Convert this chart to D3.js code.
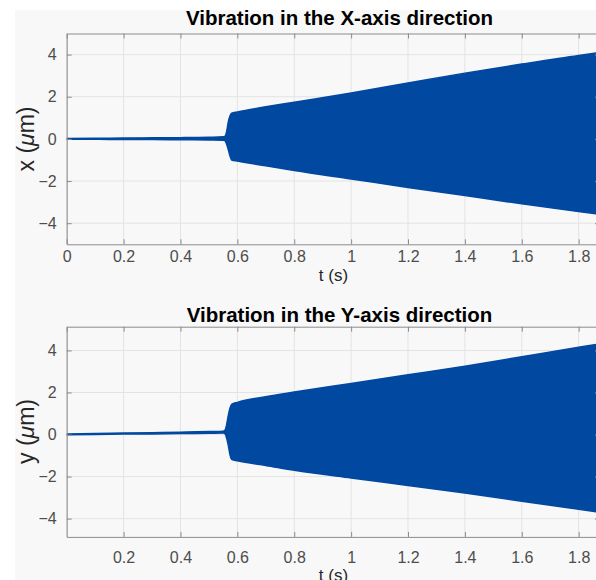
<!DOCTYPE html>
<html>
<head>
<meta charset="utf-8">
<script src="https://cdn.jsdelivr.net/npm/d3@7"></script>
<style>
  body { margin: 0; background: #fff; }
  svg { display: block; font-family: "Liberation Sans", Arial, sans-serif; }
</style>
</head>
<body>
<div id="chart"></div>
<script>
// envelope of the vibration signal
const times  = [0, 0.1, 0.2, 0.3, 0.4, 0.5, 0.55, 0.556, 0.562, 0.568, 0.574, 0.58, 0.6, 0.7, 0.8, 1.0, 1.2, 1.4, 1.6, 1.8, 1.875];
const xUpper = [0.02, 0.03, 0.04, 0.05, 0.06, 0.08, 0.1, 0.12, 0.33, 0.79, 1.08, 1.22, 1.28, 1.52, 1.74, 2.18, 2.65, 3.12, 3.55, 3.96, 4.1];
const xLower = [-0.02, -0.02, -0.03, -0.03, -0.04, -0.05, -0.06, -0.08, -0.24, -0.5, -0.8, -1.0, -1.05, -1.28, -1.5, -1.9, -2.3, -2.69, -3.08, -3.45, -3.58];
const yUpper = [0.02, 0.05, 0.07, 0.09, 0.11, 0.14, 0.16, 0.2, 0.45, 0.9, 1.25, 1.44, 1.53, 1.8, 2.02, 2.43, 2.84, 3.25, 3.7, 4.15, 4.32];
const yLower = [-0.01, 0.0, 0.02, 0.03, 0.05, 0.06, 0.07, 0.05, -0.15, -0.5, -0.95, -1.18, -1.25, -1.47, -1.7, -2.07, -2.42, -2.78, -3.17, -3.55, -3.7];

const tTicksTop    = [0, 0.2, 0.4, 0.6, 0.8, 1, 1.2, 1.4, 1.6, 1.8];
const tTicksBottom = [0.2, 0.4, 0.6, 0.8, 1, 1.2, 1.4, 1.6, 1.8];
const ampTicks     = [-4, -2, 0, 2, 4];

const width = 596, height = 580;
const blue = '#0048a0';
const axisGray = '#8c8c8c';
const labelGray = '#4d4d4d';

const svg = d3.select('#chart').append('svg')
    .attr('width', width)
    .attr('height', height);

svg.append('rect')
    .attr('x', 15).attr('y', 0)
    .attr('width', width - 15).attr('height', height)
    .attr('fill', '#f8f8f8');

const x = d3.scaleLinear().domain([0, 1.875]).range([66.7, 600]);

const panels = [
    { title: 'Vibration in the X-axis direction', name: 'x', upper: xUpper, lower: xLower,
      yDomain: [-5, 5], top: 33.5, bottom: 244.3, tTicks: tTicksTop,
      tickPad: 6.5, xlabelY: 280.5, titleY: 25, ylabelY: 139 },
    { title: 'Vibration in the Y-axis direction', name: 'y', upper: yUpper, lower: yLower,
      yDomain: [-4.87, 5.13], top: 326.7, bottom: 536.9, tTicks: tTicksBottom,
      tickPad: 14.8, xlabelY: 581, titleY: 321.7, ylabelY: 431.5 }
];

panels.forEach((p, i) => {
    const y = d3.scaleLinear().domain(p.yDomain).range([p.bottom, p.top]);
    const g = svg.append('g');
    const data = times.map((t, j) => ({ t: t, hi: p.upper[j], lo: p.lower[j] }));

    // grid
    g.append('g').selectAll('line')
        .data(tTicksTop)
        .join('line')
        .attr('x1', d => x(d)).attr('x2', d => x(d))
        .attr('y1', p.top).attr('y2', p.bottom)
        .attr('stroke', '#e3e3e3');
    g.append('g').selectAll('line')
        .data(ampTicks)
        .join('line')
        .attr('x1', x.range()[0]).attr('x2', x.range()[1])
        .attr('y1', d => y(d)).attr('y2', d => y(d))
        .attr('stroke', '#e3e3e3');

    svg.append('clipPath').attr('id', 'clip' + i)
        .append('rect')
        .attr('x', x.range()[0]).attr('y', p.top)
        .attr('width', x.range()[1] - x.range()[0])
        .attr('height', p.bottom - p.top);

    const area = d3.area()
        .x(d => x(d.t))
        .y0(d => y(d.lo))
        .y1(d => y(d.hi))
        .curve(d3.curveMonotoneX);

    g.append('path')
        .datum(data)
        .attr('clip-path', `url(#clip${i})`)
        .attr('d', area)
        .attr('fill', blue)
        .attr('stroke', blue)
        .attr('stroke-width', 1.5)
        .attr('stroke-linejoin', 'round');

    // axes, MATLAB-style inward ticks
    const styleAxis = sel => {
        sel.select('.domain').attr('stroke', axisGray);
        sel.selectAll('.tick line').attr('stroke', axisGray);
        sel.selectAll('.tick text')
            .attr('fill', labelGray)
            .attr('font-size', 16)
            .attr('font-family', '"Liberation Sans", Arial, sans-serif');
    };

    g.append('g')
        .attr('transform', `translate(0,${p.bottom})`)
        .call(d3.axisBottom(x).tickValues(p.tTicks).tickSizeInner(-5).tickSizeOuter(0)
            .tickPadding(p.tickPad).tickFormat(d3.format('')))
        .call(styleAxis);
    g.append('g')
        .attr('transform', `translate(0,${p.top})`)
        .call(d3.axisTop(x).tickValues(tTicksTop).tickSizeInner(-5).tickSizeOuter(0).tickFormat(''))
        .call(styleAxis);
    g.append('g')
        .attr('transform', `translate(${x.range()[0]},0)`)
        .call(d3.axisLeft(y).tickValues(ampTicks).tickSizeInner(-5).tickSizeOuter(0).tickPadding(10))
        .call(styleAxis);
    g.append('g')
        .attr('transform', `translate(${x.range()[1]},0)`)
        .call(d3.axisRight(y).tickValues(ampTicks).tickSizeInner(-5).tickSizeOuter(0).tickFormat(''))
        .call(styleAxis);

    g.selectAll('.domain').attr('fill', 'none');

    // labels
    g.append('text')
        .attr('x', 339.5).attr('y', p.titleY)
        .attr('text-anchor', 'middle')
        .attr('font-size', 20.5)
        .attr('font-weight', 'bold')
        .attr('fill', '#000')
        .text(p.title);

    g.append('text')
        .attr('x', 333.5).attr('y', p.xlabelY)
        .attr('text-anchor', 'middle')
        .attr('font-size', 17)
        .attr('fill', '#262626')
        .text('t (s)');

    const yl = g.append('text')
        .attr('transform', `translate(33.5,${p.ylabelY}) rotate(-90)`)
        .attr('text-anchor', 'middle')
        .attr('font-size', 23)
        .attr('fill', '#262626');
    yl.append('tspan').text(p.name + ' (');
    yl.append('tspan').attr('font-style', 'italic').text('\u03bc');
    yl.append('tspan').text('m)');
});

// white margin strips of the exported figure
svg.append('rect').attr('x', 0).attr('y', 0).attr('width', width).attr('height', 10).attr('fill', '#fff');
svg.append('rect').attr('x', 0).attr('y', 0).attr('width', 15).attr('height', height).attr('fill', '#fff');
</script>
</body>
</html>
